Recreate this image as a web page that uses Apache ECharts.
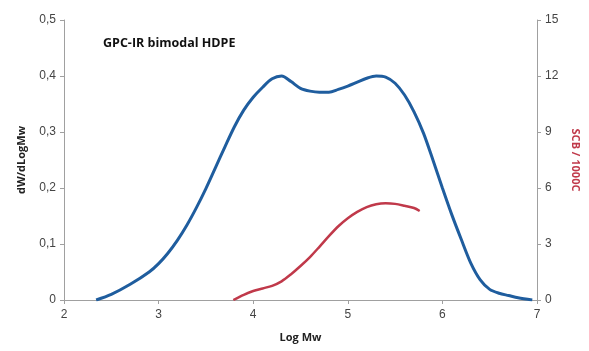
<!DOCTYPE html>
<html>
<head>
<meta charset="utf-8">
<script src="https://cdn.jsdelivr.net/npm/echarts@6/dist/echarts.min.js"></script>
<style>
  html, body { margin: 0; padding: 0; background: #fff; }
  #chart { width: 589px; height: 351px; }
</style>
</head>
<body>
<div id="chart"></div>
<script>
// molecular weight distribution (left axis)
const mwdLogMw = [2.34, 2.5, 2.7, 2.9, 3.0, 3.1, 3.2, 3.3, 3.4, 3.5, 3.6, 3.7, 3.8, 3.9, 4.0, 4.1, 4.2, 4.3, 4.4, 4.5,
  4.6, 4.7, 4.8, 4.9, 5.0, 5.1, 5.2, 5.3, 5.4, 5.5, 5.6, 5.7, 5.8, 5.9, 6.0, 6.1, 6.2, 6.3, 6.4, 6.5,
  6.6, 6.7, 6.8, 6.95];
const mwdValues = [0, 0.010, 0.028, 0.050, 0.065, 0.084, 0.107, 0.134, 0.165, 0.199, 0.236, 0.273, 0.309, 0.339, 0.362, 0.380, 0.395, 0.400, 0.390, 0.378,
  0.373, 0.371, 0.371, 0.376, 0.382, 0.389, 0.396, 0.400, 0.398, 0.387, 0.366, 0.336, 0.298, 0.250, 0.200, 0.152, 0.108, 0.066, 0.036, 0.019,
  0.012, 0.008, 0.004, 0];

// short chain branching (right axis)
const scbLogMw = [3.79, 3.9, 4.0, 4.1, 4.2, 4.3, 4.4, 4.5, 4.6, 4.7, 4.8, 4.9, 5.0, 5.1, 5.2, 5.3, 5.4, 5.5, 5.6, 5.7, 5.76];
const scbValues = [0, 0.28, 0.48, 0.62, 0.76, 1.0, 1.38, 1.82, 2.3, 2.85, 3.42, 3.95, 4.38, 4.72, 4.98, 5.13, 5.18, 5.15, 5.05, 4.93, 4.77];

const pair = (xs, ys) => xs.map((x, i) => [x, ys[i]]);
const comma = v => String(Math.round(v * 10) / 10).replace('.', ',');

const axisLine = { show: true, lineStyle: { color: '#a0a0a0', width: 1 } };
const axisTick = { show: true, length: 4, lineStyle: { color: '#a0a0a0' } };
const labelStyle = { color: '#444', fontSize: 12, fontFamily: 'Liberation Sans, Arial, sans-serif' };

const chart = echarts.init(document.getElementById('chart'));
chart.setOption({
  animation: false,
  backgroundColor: '#fff',
  title: {
    text: 'GPC-IR bimodal HDPE',
    left: 98,
    top: 32,
    textStyle: { fontSize: 12.5, fontWeight: 'bold', color: '#111', fontFamily: 'Open Sans, sans-serif' }
  },
  grid: { left: 64, right: 52, top: 20, bottom: 51 },
  xAxis: {
    type: 'value',
    min: 2, max: 7, interval: 1,
    name: 'Log Mw',
    nameLocation: 'middle',
    nameGap: 32,
    nameTextStyle: { fontSize: 11, fontWeight: 'bold', color: '#222', fontFamily: 'Open Sans, sans-serif' },
    axisLine, axisTick,
    axisLabel: Object.assign({ margin: 9 }, labelStyle),
    splitLine: { show: false }
  },
  yAxis: [
    {
      type: 'value',
      min: 0, max: 0.5, interval: 0.1,
      name: 'dW/dLogMw',
      nameLocation: 'middle',
      nameRotate: 90,
      nameGap: 37,
      nameTextStyle: { fontSize: 11, fontWeight: 'bold', color: '#222', fontFamily: 'Open Sans, sans-serif' },
      axisLine, axisTick,
      axisLabel: Object.assign({ formatter: comma, margin: 8 }, labelStyle),
      splitLine: { show: false }
    },
    {
      type: 'value',
      position: 'right',
      min: 0, max: 15, interval: 3,
      name: 'SCB / 1000C',
      nameLocation: 'middle',
      nameRotate: -90,
      nameGap: 32,
      nameTextStyle: { fontSize: 11, fontWeight: 'bold', color: '#c0394a', fontFamily: 'Open Sans, sans-serif' },
      axisLine, axisTick,
      axisLabel: Object.assign({ margin: 8 }, labelStyle),
      splitLine: { show: false }
    }
  ],
  series: [
    {
      type: 'line',
      data: pair(mwdLogMw, mwdValues),
      smooth: 0.3,
      showSymbol: false,
      lineStyle: { color: '#1f5d9e', width: 3 }
    },
    {
      type: 'line',
      yAxisIndex: 1,
      data: pair(scbLogMw, scbValues),
      smooth: 0.3,
      showSymbol: false,
      lineStyle: { color: '#c0394a', width: 2.5 }
    }
  ]
});
</script>
</body>
</html>
